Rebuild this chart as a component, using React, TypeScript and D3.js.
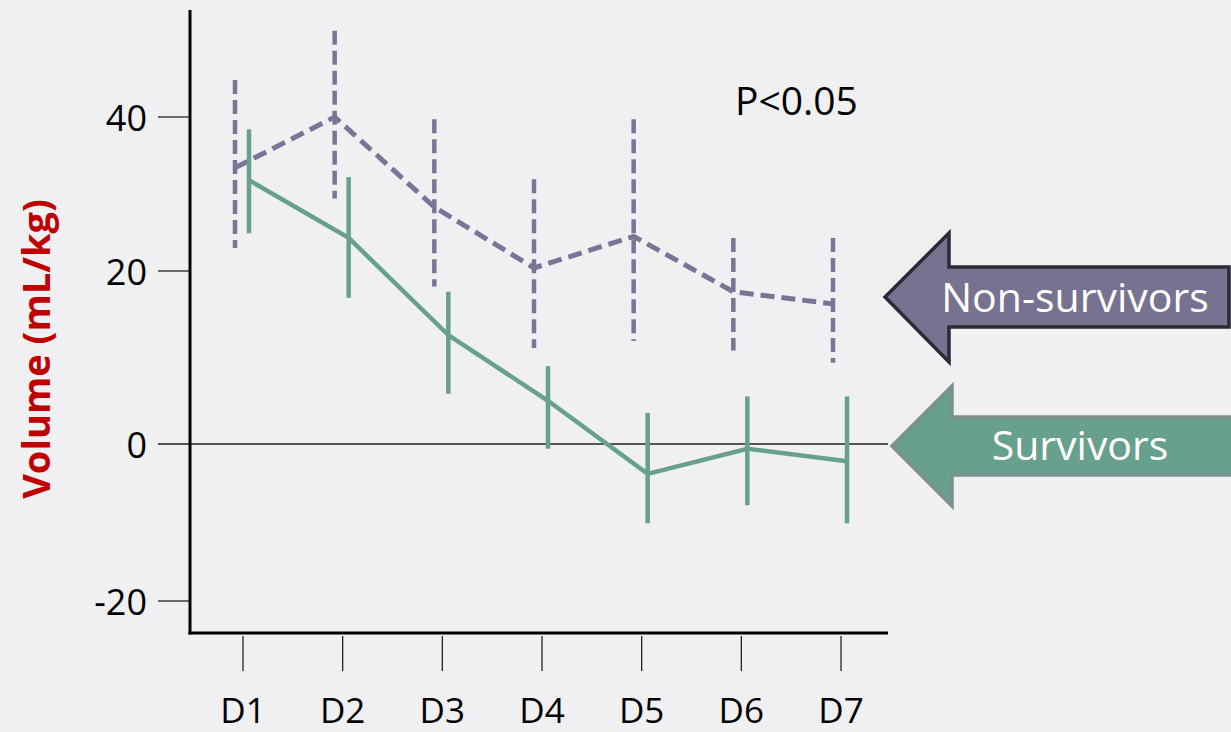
import React from "react";
import * as d3 from "d3";

const days = ["D1", "D2", "D3", "D4", "D5", "D6", "D7"];
const yTicks = [-20, 0, 20, 40];

const nonSurvMean = [33.4, 40, 28.3, 20.4, 24.5, 17.6, 16.2];
const nonSurvUpper = [44.8, 51.2, 39.7, 31.9, 39.7, 24.3, 24.3];
const nonSurvLower = [23.0, 29.4, 18.2, 11.1, 11.9, 10.8, 9.4];

const survMean = [31.8, 24.3, 12.6, 5.0, -3.8, -0.6, -2.2];
const survUpper = [38.4, 32.2, 17.6, 9.0, 3.6, 5.5, 5.5];
const survLower = [24.9, 16.9, 5.8, -0.6, -10.1, -7.8, -10.1];

const W = 1231;
const H = 732;
const FONT = "'Open Sans', 'DejaVu Sans', sans-serif";
const PURPLE = "#7a7597";
const GREEN = "#67a08c";

export default function App() {
  const x = d3.scalePoint<string>().domain(days).range([243, 841]);
  const y = d3.scaleLinear().domain([-20, 0, 20, 40]).range([601, 444, 271, 117]);

  const nsOff = -8;
  const sOff = 6;

  const lineNS = d3
    .line<number>()
    .x((_, i) => (x(days[i]) as number) + nsOff)
    .y((d) => y(d));
  const lineS = d3
    .line<number>()
    .x((_, i) => (x(days[i]) as number) + sOff)
    .y((d) => y(d));

  const axisLeft = 190;
  const axisRight = 888;
  const axisBottom = 633;
  const axisTop = 10;

  const nsArrow = (() => {
    const tipX = 885, tipY = 297, headX = 949, headTop = 233, headBot = 362, shTop = 267, shBot = 327, right = 1229;
    return `M${tipX},${tipY} L${headX},${headTop} L${headX},${shTop} L${right},${shTop} L${right},${shBot} L${headX},${shBot} L${headX},${headBot} Z`;
  })();
  const sArrow = (() => {
    const tipX = 892, tipY = 446, headX = 952, headTop = 386, headBot = 506, shTop = 417, shBot = 475, right = 1240;
    return `M${tipX},${tipY} L${headX},${headTop} L${headX},${shTop} L${right},${shTop} L${right},${shBot} L${headX},${shBot} L${headX},${headBot} Z`;
  })();

  return (
    <svg
      width={W}
      height={H}
      style={{ position: "absolute", left: 0, top: 0, display: "block" }}
      fontFamily={FONT}
    >
      <rect x={0} y={0} width={W} height={H} fill="#f0f0f2" />

      {yTicks.map((t) => (
        <g key={t}>
          <line
            x1={158}
            x2={t === 0 ? axisRight : axisLeft}
            y1={y(t)}
            y2={y(t)}
            stroke="#222"
            strokeWidth={1.3}
          />
          <text
            x={147}
            y={y(t)}
            textAnchor="end"
            dominantBaseline="central"
            fontSize={36}
            fill="#000"
          >
            {t}
          </text>
        </g>
      ))}

      {days.map((d) => (
        <g key={d}>
          <line
            x1={x(d)}
            x2={x(d)}
            y1={636}
            y2={671}
            stroke="#222"
            strokeWidth={1.3}
          />
          <text x={x(d)} y={723} textAnchor="middle" fontSize={35} fill="#000">
            {d}
          </text>
        </g>
      ))}

      <line x1={axisLeft} x2={axisLeft} y1={axisTop} y2={axisBottom + 1.5} stroke="#000" strokeWidth={3} />
      <line x1={axisLeft - 1.5} x2={axisRight} y1={axisBottom} y2={axisBottom} stroke="#000" strokeWidth={3} />

      {days.map((d, i) => (
        <line
          key={"nse" + d}
          x1={(x(d) as number) + nsOff}
          x2={(x(d) as number) + nsOff}
          y1={y(nonSurvUpper[i])}
          y2={y(nonSurvLower[i])}
          stroke={PURPLE}
          strokeWidth={4.5}
          strokeDasharray="14,6"
        />
      ))}
      <path
        d={lineNS(nonSurvMean) || ""}
        fill="none"
        stroke={PURPLE}
        strokeWidth={5}
        strokeDasharray="14,7"
      />

      {days.map((d, i) => (
        <line
          key={"se" + d}
          x1={(x(d) as number) + sOff}
          x2={(x(d) as number) + sOff}
          y1={y(survUpper[i])}
          y2={y(survLower[i])}
          stroke={GREEN}
          strokeWidth={4.5}
        />
      ))}
      <path d={lineS(survMean) || ""} fill="none" stroke={GREEN} strokeWidth={4.5} />

      <text
        transform={`translate(50,349) rotate(-90)`}
        textAnchor="middle"
        fontSize={38}
        fontWeight="bold"
        fill="#c00000"
      >
        Volume (mL/kg)
      </text>

      <text x={735} y={115} fontSize={39} fill="#000">
        P&lt;0.05
      </text>

      <path d={nsArrow} fill="#777290" stroke="#2b2a35" strokeWidth={3.5} strokeLinejoin="miter" />
      <text x={1075} y={312} textAnchor="middle" fontSize={41} fill="#fff">
        Non-survivors
      </text>
      <path d={sArrow} fill={GREEN} stroke="#7c9090" strokeWidth={3.5} strokeLinejoin="miter" />
      <text x={1080} y={460} textAnchor="middle" fontSize={41} fill="#fff">
        Survivors
      </text>
    </svg>
  );
}
